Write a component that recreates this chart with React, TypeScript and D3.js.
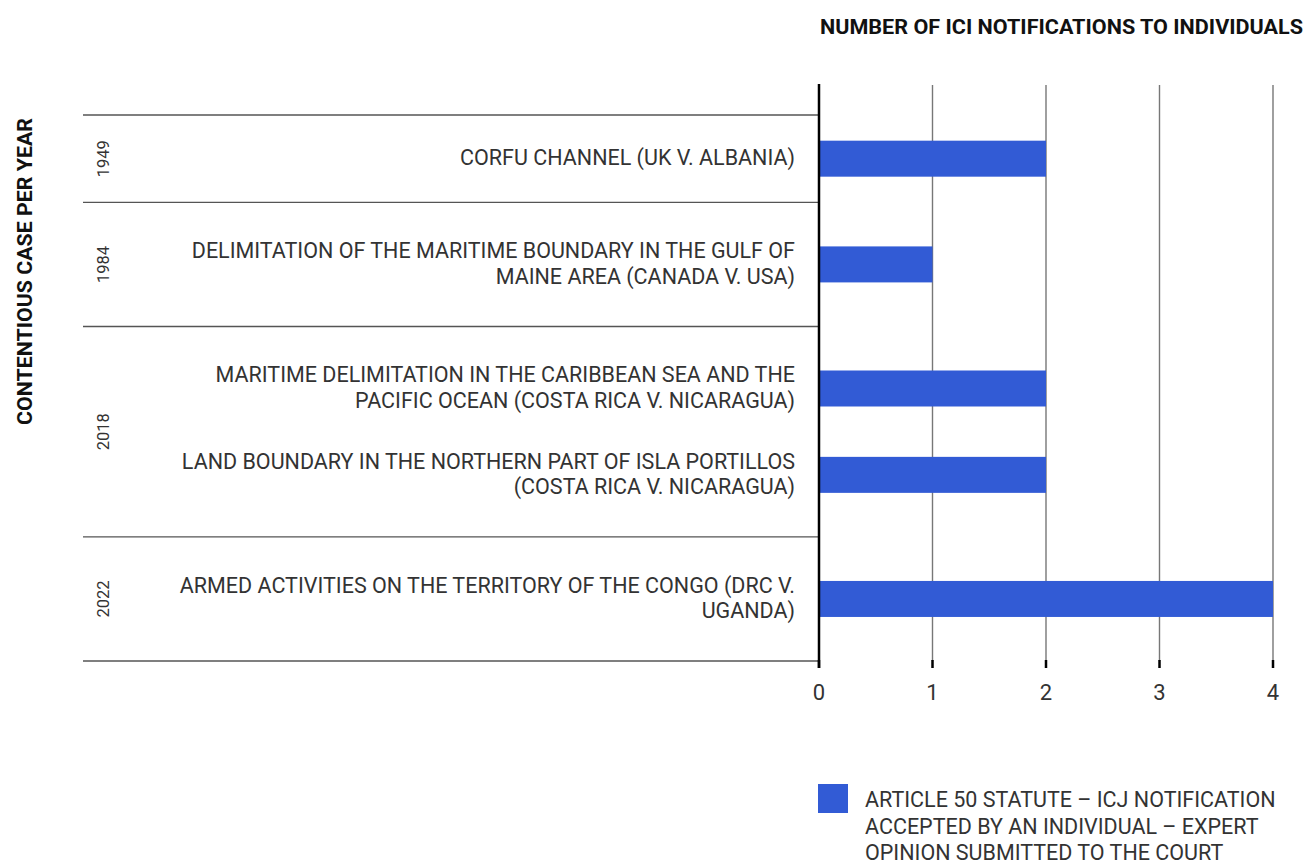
import React from "react";
import * as d3 from "d3";

// ---- data ----
const years = ["1949", "1984", "2018", "2022"];
const caseYears = ["1949", "1984", "2018", "2018", "2022"];
const caseLabels: string[][] = [
  ["CORFU CHANNEL (UK V. ALBANIA)"],
  ["DELIMITATION OF THE MARITIME BOUNDARY IN THE GULF OF", "MAINE AREA (CANADA V. USA)"],
  ["MARITIME DELIMITATION IN THE CARIBBEAN SEA AND THE", "PACIFIC OCEAN (COSTA RICA V. NICARAGUA)"],
  ["LAND BOUNDARY IN THE NORTHERN PART OF ISLA PORTILLOS", "(COSTA RICA V. NICARAGUA)"],
  ["ARMED ACTIVITIES ON THE TERRITORY OF THE CONGO (DRC V.", "UGANDA)"],
];
const values = [2, 1, 2, 2, 4];
const xTicks = [0, 1, 2, 3, 4];
const title = "NUMBER OF ICI NOTIFICATIONS TO INDIVIDUALS";
const yTitle = "CONTENTIOUS CASE PER YEAR";
const legendLines = [
  "ARTICLE 50 STATUTE – ICJ NOTIFICATION",
  "ACCEPTED BY AN INDIVIDUAL – EXPERT",
  "OPINION SUBMITTED TO THE COURT",
];

// ---- styles ----
const W = 1306;
const H = 864;
const BAR = "#325BD5";
const TXT = "#333";
const FONT = "Roboto, 'Liberation Sans', sans-serif";
const TEXT_LINE = 25.5; // label line spacing (px)
const ROW_LINE = 37; // layout units per label line
const CASE_PAD = 6.5;
const GROUP_PAD = 19;

export default function App() {
  type Row = { center: number; idx: number };
  const rows: Row[] = [];
  const groups: { year: string; y0: number; y1: number }[] = [];
  let u = 0;
  years.forEach((yr) => {
    const g0 = u;
    u += GROUP_PAD;
    caseYears.forEach((cy, i) => {
      if (cy !== yr) return;
      const h = caseLabels[i].length * ROW_LINE + 2 * CASE_PAD;
      rows.push({ center: u + h / 2, idx: i });
      u += h;
    });
    u += GROUP_PAD;
    groups.push({ year: yr, y0: g0, y1: u });
  });
  const total = u;

  const y = d3.scaleLinear().domain([0, total]).range([115, 661]);
  const x = d3.scaleLinear().domain([0, 4]).range([819, 1273]);
  const barH = 36;

  return (
    <svg width={W} height={H} style={{ position: "absolute", left: 0, top: 0, background: "#fff" }}>
      <rect x={0} y={0} width={W} height={H} fill="#fff" />
      {/* title */}
      <text x={820} y={34} fontFamily={FONT} fontWeight={700} fontSize={19.5} fill="#111" textLength={483} lengthAdjust="spacingAndGlyphs">
        {title}
      </text>
      {/* y title */}
      <text
        transform={`translate(32, ${(118 + 425) / 2}) rotate(-90)`}
        textAnchor="middle"
        fontFamily={FONT}
        fontWeight={700}
        fontSize={19.5}
        fill="#111"
        textLength={307}
        lengthAdjust="spacingAndGlyphs"
      >
        {yTitle}
      </text>

      {/* gridlines */}
      {xTicks.filter((t) => t > 0).map((t) => (
        <line key={"g" + t} x1={x(t)} x2={x(t)} y1={85} y2={661} stroke="#777" strokeWidth={1.4} />
      ))}

      {/* group separators */}
      {groups.map((g, i) => (
        <line key={"s" + i} x1={83} x2={819} y1={y(g.y0)} y2={y(g.y0)} stroke="#555" strokeWidth={1.4} />
      ))}
      <line x1={83} x2={819} y1={y(total)} y2={y(total)} stroke="#555" strokeWidth={1.4} />

      {/* year labels */}
      {groups.map((g) => (
        <text
          key={"y" + g.year}
          transform={`translate(109, ${(y(g.y0) + y(g.y1)) / 2}) rotate(-90)`}
          textAnchor="middle"
          fontFamily={FONT}
          fontSize={16.5}
          fill={TXT}
        >
          {g.year}
        </text>
      ))}

      {/* bars */}
      {rows.map((r) => (
        <rect
          key={"b" + r.idx}
          x={x(0)}
          y={y(r.center) - barH / 2}
          width={x(values[r.idx]) - x(0)}
          height={barH}
          fill={BAR}
        />
      ))}

      {/* case labels */}
      {rows.map((r) => {
        const lines = caseLabels[r.idx];
        const c = y(r.center);
        const start = c - ((lines.length - 1) * TEXT_LINE) / 2;
        return (
          <text key={"l" + r.idx} textAnchor="end" fontFamily={FONT} fontSize={21.5} fill={TXT}>
            {lines.map((ln, j) => (
              <tspan key={j} x={795} y={start + j * TEXT_LINE + 6.5}>
                {ln}
              </tspan>
            ))}
          </text>
        );
      })}

      {/* axis line */}
      <line x1={x(0)} x2={x(0)} y1={84} y2={668} stroke="#000" strokeWidth={2.5} />
      {/* ticks */}
      {xTicks.map((t) => (
        <g key={"t" + t}>
          <line x1={x(t)} x2={x(t)} y1={660} y2={668} stroke="#000" strokeWidth={2.5} />
          <text x={x(t)} y={700} textAnchor="middle" fontFamily={FONT} fontSize={22} fill={TXT}>
            {t}
          </text>
        </g>
      ))}

      {/* legend */}
      <rect x={818} y={784} width={30} height={29} fill={BAR} />
      <text fontFamily={FONT} fontSize={21.5} fill={TXT}>
        {legendLines.map((ln, j) => (
          <tspan key={j} x={865} y={807 + j * 26.5}>
            {ln}
          </tspan>
        ))}
      </text>
    </svg>
  );
}
